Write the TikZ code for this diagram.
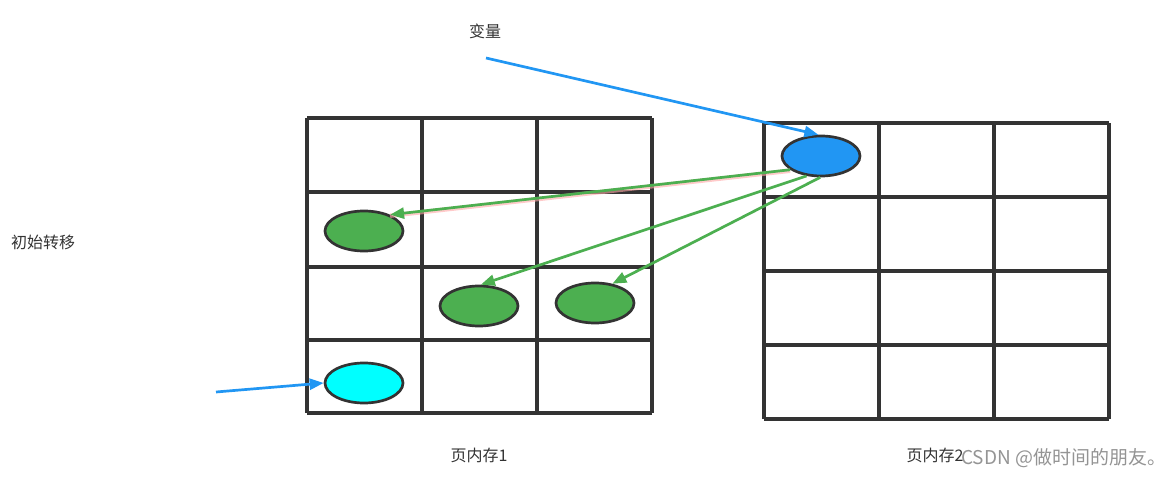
\documentclass[tikz,border=0pt]{standalone}
\usepackage{fontspec}
\newfontfamily\cjk{Noto Sans CJK SC}
\usetikzlibrary{shapes.geometric,arrows.meta}
\definecolor{gridc}{HTML}{333333}
\definecolor{bluec}{HTML}{2196F3}
\definecolor{greenc}{HTML}{4CAF50}
\definecolor{cyanc}{HTML}{00FFFF}
\definecolor{txtc}{HTML}{333333}
\tikzset{
  gridline/.style={draw=gridc, line width=3.2pt},
  blob/.style={ellipse, draw=gridc, line width=2.7pt, minimum width=78pt, minimum height=40pt, inner sep=0pt},
  lbl/.style={font=\cjk\fontsize{16}{18}\selectfont, text=txtc, inner sep=0pt},
  bluearrow/.style={draw=bluec, line width=2.7pt, -{Triangle[length=14pt,width=11pt]}},
  greenarrow/.style={draw=greenc, line width=2.7pt, -{Triangle[length=14pt,width=11pt]}},
}
\begin{document}
\begin{tikzpicture}[x=1pt,y=-1pt]
\useasboundingbox (0,0) rectangle (1175,478);
% left grid
\foreach \x in {307,422,537,652} \draw[gridline] (\x,118) -- (\x,413);
\foreach \y in {118,192,267,340,413} \draw[gridline] (307,\y) -- (652,\y);
% right grid
\foreach \x in {764,879,994,1109} \draw[gridline] (\x,123) -- (\x,419);
\foreach \y in {123,197,271,345,419} \draw[gridline] (764,\y) -- (1109,\y);
% ellipses
\node[blob, fill=bluec] (b) at (821,156) {};
\node[blob, fill=greenc] (g1) at (364,231) {};
\node[blob, fill=greenc] (g2) at (479,306) {};
\node[blob, fill=greenc] (g3) at (595,303) {};
\node[blob, fill=cyanc] (c) at (364,383) {};
% labels
\node[lbl] (var) at (485,31) {变量};
\node[lbl] (init) at (43,242) {初始转移};
\node[lbl] (p1) at (479,455) {页内存1};
\node[lbl] (p2) at (935,455) {页内存2};
\node[font=\cjk\fontsize{19}{21}\selectfont, text=black!42, inner sep=0pt, anchor=west] (wm) at (961,458) {CSDN @做时间的朋友。};
% arrows
\coordinate (vs) at (486,58);
\coordinate (cs) at (216,392);
\draw[bluearrow] (vs) -- (b.97);
\draw[bluearrow] (cs) -- (c.west);
\draw[draw=red!35, line width=4.4pt, opacity=0.6] ([yshift=-1pt]b.204) -- ([yshift=-1pt]g1.32);
\draw[greenarrow] (b.204) -- (g1.32);
\draw[greenarrow] (b.234) -- (g2.85);
\draw[greenarrow] (b.268) -- (g3.48);
\end{tikzpicture}
\end{document}
